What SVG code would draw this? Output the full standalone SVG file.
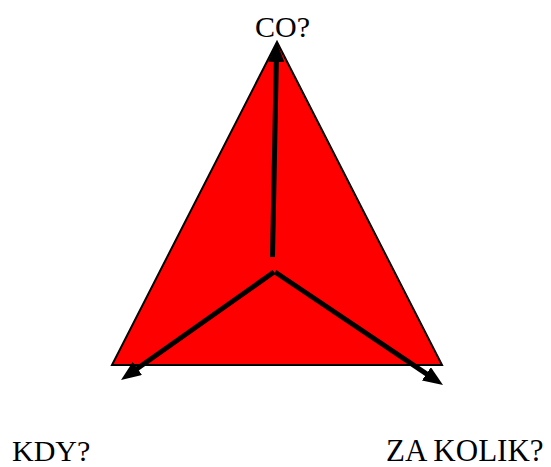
<svg xmlns="http://www.w3.org/2000/svg" width="551" height="467" viewBox="0 0 551 467">
<style>
.lbl{font-family:"Liberation Serif","Times New Roman",serif;fill:#000}
.tri{fill:#ff0000;stroke:#000;stroke-width:2;stroke-linejoin:miter}
.arr{stroke:#000;stroke-width:5;fill:none;marker-end:url(#ah)}
</style>
<defs>
<marker id="ah" viewBox="0 0 20 16" refX="10" refY="8" markerWidth="20" markerHeight="16" markerUnits="userSpaceOnUse" orient="auto">
<path d="M0,0 L20,8 L0,16 z" fill="#000"/>
</marker>
</defs>
<g id="triangle"><polygon class="tri" points="277,42 112,365 442,365"/></g>
<g id="connectors">
<line class="arr" x1="272.5" y1="257" x2="276.5" y2="52"/>
<line class="arr" x1="274" y1="272" x2="129.2" y2="374.2"/>
<line class="arr" x1="275" y1="272" x2="434.7" y2="379.4"/>
</g>
<g id="co"><text class="lbl" x="255" y="37" font-size="30">CO?</text></g>
<g id="kdy"><text class="lbl" x="12" y="461" font-size="30">KDY?</text></g>
<g id="zakolik"><text class="lbl" x="386" y="461" font-size="31">ZA KOLIK?</text></g>
</svg>
